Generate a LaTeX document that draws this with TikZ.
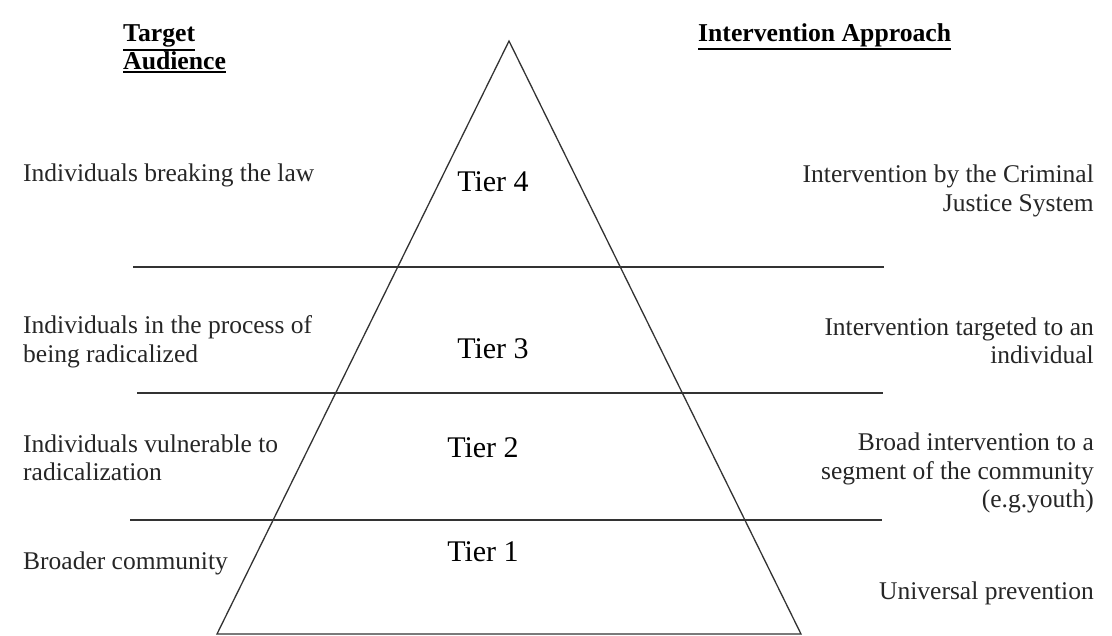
\documentclass[tikz,border=0pt]{standalone}
\usepackage{fontspec}
\setmainfont{Liberation Serif}
\newcommand\hul[1]{\leavevmode\vtop{\hbox{#1}\kern1.2pt\hrule height 2pt}}
\begin{document}
\begin{tikzpicture}[x=1pt,y=-1pt,
  edge/.style={draw=black!80,line width=1.3pt},
  sidel/.style={anchor=west,inner sep=0pt,align=left,font=\fontsize{25.5}{28.5}\selectfont,text=black!85},
  sider/.style={anchor=east,inner sep=0pt,align=right,font=\fontsize{25.5}{28.5}\selectfont,text=black!85},
  tier/.style={inner sep=0pt,font=\fontsize{30}{32}\selectfont},
  head/.style={anchor=west,inner sep=0pt,align=left,font=\bfseries\fontsize{25.7}{24}\selectfont}]
\useasboundingbox (0,0) rectangle (1112,636);
% triangle
\coordinate (apex) at (509,41);
\coordinate (bl) at (217,634);
\coordinate (br) at (801,634);
\draw[edge,line join=miter] (apex) -- (bl) -- (br) -- cycle;
% separators
\coordinate (s1a) at (133,267); \coordinate (s1b) at (884,267);
\coordinate (s2a) at (137,393); \coordinate (s2b) at (883,393);
\coordinate (s3a) at (130,520); \coordinate (s3b) at (882,520);
\draw[edge] (s1a) -- (s1b);
\draw[edge] (s2a) -- (s2b);
\draw[edge] (s3a) -- (s3b);
% headings
\node[head] (ha) at (123,49) {\hul{Target}\\\hul{Audience}};
\node[head] (hi) at (698,37) {\hul{Intervention Approach}};
% tiers
\node[tier] (t4) at (493,182) {Tier 4};
\node[tier] (t3) at (493,349) {Tier 3};
\node[tier] (t2) at (483,448) {Tier 2};
\node[tier] (t1) at (483,552) {Tier 1};
% left texts
\node[sidel] (l4) at (23,175) {Individuals breaking the law};
\node[sidel] (l3) at (23,342) {Individuals in the process of\\being radicalized};
\node[sidel] (l2) at (23,458) {Individuals vulnerable to\\radicalization};
\node[sidel] (l1) at (23,563) {Broader community};
% right texts
\node[sider] (r4) at (1094,191) {Intervention by the Criminal\\Justice System};
\node[sider] (r3) at (1094,341) {Intervention targeted to an\\individual};
\node[sider] (r2) at (1094,473) {Broad intervention to a\\segment of the community\\(e.g.youth)};
\node[sider] (r1) at (1094,593) {Universal prevention};
\end{tikzpicture}
\end{document}
